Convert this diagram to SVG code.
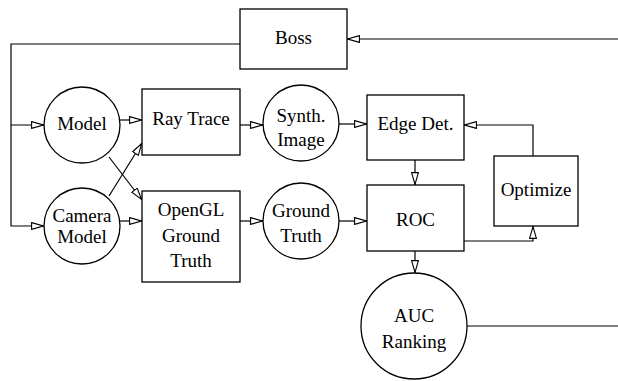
<svg xmlns="http://www.w3.org/2000/svg" width="618" height="381" viewBox="0 0 618 381">
<style>
.n{fill:#fff;stroke:#000;stroke-width:1.3}
.c{fill:none;stroke:#000;stroke-width:1.2}
text{font-family:"Liberation Serif","Times New Roman",serif;font-size:19px;text-anchor:middle;fill:#000}
</style>
<defs>
<marker id="a" viewBox="0 0 13 8" refX="13" refY="4" markerWidth="13" markerHeight="8" markerUnits="userSpaceOnUse" orient="auto">
<path d="M0.6,0.6 L12.4,4 L0.6,7.4 z" fill="#fff" stroke="#000" stroke-width="1.1"/>
</marker>
</defs>
<rect width="618" height="381" fill="#fff"/>
<g id="connectors">
<path class="c" d="M240,44 H11 V226 H44" marker-end="url(#a)"/>
<path class="c" d="M11,125 H44" marker-end="url(#a)"/>
<path class="c" d="M618,39 H347" marker-end="url(#a)"/>
<path class="c" d="M120,120 H142" marker-end="url(#a)"/>
<path class="c" d="M109,157 L142,200" marker-end="url(#a)"/>
<path class="c" d="M109,196 L142,143" marker-end="url(#a)"/>
<path class="c" d="M120,221 H142" marker-end="url(#a)"/>
<path class="c" d="M240,125 H263" marker-end="url(#a)"/>
<path class="c" d="M240,221 H263" marker-end="url(#a)"/>
<path class="c" d="M339,124 H367" marker-end="url(#a)"/>
<path class="c" d="M339,221 H367" marker-end="url(#a)"/>
<path class="c" d="M415,160 V185" marker-end="url(#a)"/>
<path class="c" d="M533,156 V125 H464" marker-end="url(#a)"/>
<path class="c" d="M464,241 H533 V226" marker-end="url(#a)"/>
<path class="c" d="M415,251 V273" marker-end="url(#a)"/>
<path class="c" d="M467,326 H618"/>
</g>
<g id="boss"><rect class="n" x="240" y="9" width="107" height="60"/><text x="293.5" y="44">Boss</text></g>
<g id="model"><circle class="n" cx="82" cy="125" r="38"/><text x="82" y="130">Model</text></g>
<g id="camera"><circle class="n" cx="82" cy="226" r="38"/><text x="82" y="222">Camera</text><text x="82" y="242.5">Model</text></g>
<g id="raytrace"><rect class="n" x="142" y="89" width="98" height="66"/><text x="191" y="125">Ray Trace</text></g>
<g id="opengl"><rect class="n" x="142" y="191" width="98" height="91"/><text x="191" y="216">OpenGL</text><text x="191" y="242">Ground</text><text x="191" y="267">Truth</text></g>
<g id="synth"><circle class="n" cx="301" cy="123" r="38"/><text x="301" y="121.5">Synth.</text><text x="301" y="146">Image</text></g>
<g id="ground"><circle class="n" cx="301" cy="221" r="38"/><text x="301" y="216.5">Ground</text><text x="301" y="241.5">Truth</text></g>
<g id="edge"><rect class="n" x="367" y="95" width="97" height="65"/><text x="415.5" y="130">Edge Det.</text></g>
<g id="roc"><rect class="n" x="367" y="185" width="97" height="66"/><text x="415.5" y="226">ROC</text></g>
<g id="optimize"><rect class="n" x="494" y="156" width="84" height="70"/><text x="536" y="196">Optimize</text></g>
<g id="auc"><circle class="n" cx="414" cy="326" r="53"/><text x="414" y="322">AUC</text><text x="414" y="348">Ranking</text></g>
</svg>
